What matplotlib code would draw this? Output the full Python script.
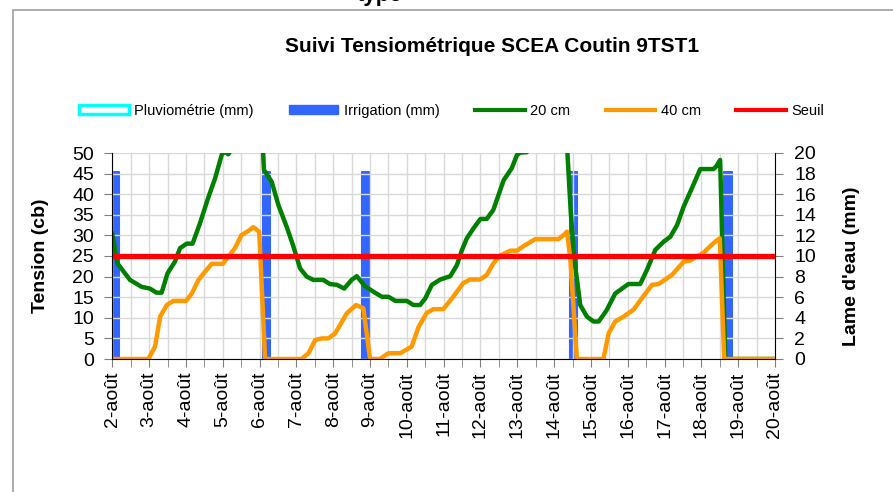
import matplotlib
matplotlib.use("Agg")
import matplotlib.pyplot as plt
import matplotlib.transforms as mtransforms
from matplotlib.patches import Patch, Rectangle
from matplotlib.lines import Line2D
from matplotlib.ticker import MultipleLocator, FixedLocator

plt.rcParams["font.family"] = ["Liberation Sans", "DejaVu Sans"]

# jours depuis le 2-août 00h
day_labels = [f"{d}-août" for d in range(2, 21)]

t20 = [0, 0.14, 0.48, 0.8, 1.02, 1.2, 1.34, 1.5, 1.7, 1.84, 2.02, 2.18, 2.38, 2.6,
       2.79, 2.99, 3.1, 3.15, 3.22, 3.5, 3.9, 4.05, 4.12, 4.33, 4.51, 4.74, 4.92,
       5.1, 5.28, 5.46, 5.73, 5.91, 6.1, 6.3, 6.5, 6.64, 6.87, 7.1, 7.32, 7.5,
       7.69, 8.0, 8.18, 8.36, 8.5, 8.68, 8.91, 9.18, 9.36, 9.5, 9.63, 9.81, 10.0,
       10.17, 10.35, 10.63, 10.85, 10.99, 11.08, 11.26, 11.6, 12.0, 12.33, 12.45,
       12.55, 12.64, 12.71, 12.89, 13.07, 13.21, 13.34, 13.43, 13.66, 14.02,
       14.34, 14.52, 14.75, 14.98, 15.16, 15.34, 15.52, 15.74, 15.97, 16.33,
       16.4, 16.51, 16.65, 18]
v20 = [30.4, 23.2, 19.2, 17.5, 17.1, 16.1, 16.1, 20.8, 23.6, 26.9, 28, 28, 32.9,
       39, 43.8, 50.1, 50.1, 49.7, 50.6, 55, 60, 58, 45.9, 43, 37.4, 32, 27.3,
       22, 20, 19.2, 19.2, 18.2, 18, 17.1, 19.2, 20.1, 17.6, 16.3, 15.1, 15.1,
       14.1, 14.1, 13.1, 13.1, 14.7, 18, 19.3, 20.1, 22.8, 26.5, 29.3, 31.7, 34,
       34, 36.2, 43.4, 46.3, 49.5, 50.1, 50.2, 55, 60, 55, 36, 24, 18, 13.1,
       10.3, 9.1, 9.1, 10.7, 11.9, 15.9, 18.2, 18.2, 21.6, 26.5, 28.5, 29.7,
       32.5, 37, 41.4, 46.1, 46.1, 46.7, 48.3, 0, 0]

t40 = [0, 0.98, 1.16, 1.3, 1.48, 1.66, 2.0, 2.16, 2.34, 2.52, 2.7, 3.0, 3.15,
       3.33, 3.51, 3.7, 3.83, 3.99, 4.15, 5.14, 5.33, 5.51, 5.69, 5.87, 6.05,
       6.19, 6.37, 6.62, 6.82, 7.0, 7.27, 7.5, 7.82, 8.13, 8.32, 8.54, 8.72,
       8.99, 9.26, 9.53, 9.72, 9.99, 10.17, 10.35, 10.53, 10.81, 10.99, 11.17,
       11.49, 12.12, 12.26, 12.35, 12.44, 12.62, 13.34, 13.48, 13.66, 13.89,
       14.16, 14.38, 14.66, 14.84, 15.2, 15.52, 15.7, 16.06, 16.24, 16.38, 16.5,
       16.62, 18]
v40 = [0, 0, 3, 10.3, 13.1, 14.1, 14.1, 15.9, 19.2, 21.2, 23.1, 23.1, 24.8, 26.9,
       30.1, 31.1, 32, 30.9, 0, 0, 1.4, 4.6, 5, 5, 6.2, 8.3, 11.1, 13.1, 12.3,
       0, 0, 1.4, 1.4, 3, 7.8, 11.2, 12.1, 12.1, 15.1, 18.4, 19.3, 19.3, 20.4,
       23.2, 25.1, 26.3, 26.3, 27.4, 29.1, 29.1, 30.1, 30.9, 24.4, 0, 0, 6.2,
       9.1, 10.3, 12.0, 14.7, 18.0, 18.2, 20.4, 23.6, 23.9, 25.8, 27.4, 28.5,
       29.3, 0, 0]

seuil = 25
irrig_t = [0.07, 4.19, 6.87, 12.52, 16.72]
irrig_mm = [18.2, 18.2, 18.2, 18.2, 18.2]

C_PLUIE, C_IRRIG = "#00FFFF", "#3366FF"
C_20, C_40, C_SEUIL = "#008000", "#FF9900", "#FF0000"

fig = plt.figure(figsize=(8.93, 4.92), dpi=100)
ax = fig.add_axes([112.3 / 893, 1 - 359 / 492, 662.7 / 893, 206 / 492])
ax2 = ax.twinx()
ax.set_zorder(ax2.get_zorder() + 1)
ax.patch.set_visible(False)

# irrigation (axe de droite, derrière les courbes)
ax2.bar(irrig_t, irrig_mm, width=0.2, color=C_IRRIG, edgecolor=C_IRRIG,
        linewidth=1.5, joinstyle="round")
ax2.set_ylim(0, 20)
ax2.yaxis.set_major_locator(MultipleLocator(2))

ax.plot(t20, v20, color=C_20, lw=3.2, solid_joinstyle="round")
ax.plot(t40, v40, color=C_40, lw=3.2, solid_joinstyle="round")
ax.axhline(seuil, color=C_SEUIL, lw=3.8)

ax.set_xlim(0, 18)
ax.set_ylim(0, 50)
ax.yaxis.set_major_locator(MultipleLocator(5))
ax.xaxis.set_major_locator(FixedLocator(range(19)))
ax.xaxis.set_minor_locator(MultipleLocator(0.5))
ax.set_xticklabels(day_labels, rotation=90)
ax.grid(True, which="both", color="#d9d9d9", lw=1)
ax.set_axisbelow(True)

# étiquettes de dates légèrement décalées à droite (rendu Excel)
shift = mtransforms.ScaledTranslation(4 / 100, 0, fig.dpi_scale_trans)
for lab in ax.get_xticklabels():
    lab.set_transform(lab.get_transform() + shift)

for a in (ax, ax2):
    for s in ("top", "left", "right"):
        a.spines[s].set_visible(False)
ax.spines["left"].set_visible(True)
ax.spines["bottom"].set_color("black")
ax2.spines["right"].set_visible(True)
ax2.spines["bottom"].set_visible(False)

ax.tick_params(axis="y", labelsize=14, length=6, pad=7, color="#808080")
ax.tick_params(axis="x", which="both", labelsize=14, length=6, pad=3,
               color="#808080")
ax2.tick_params(axis="y", labelsize=14, length=6, pad=8, color="#808080")

ax.set_ylabel("Tension (cb)", fontsize=14, fontweight="bold")
ax.yaxis.set_label_coords(-0.109, 0.5)
ax.yaxis.label.set_va("center")
ax2.set_ylabel("Lame d'eau (mm)", fontsize=14, fontweight="bold", rotation=90)
ax2.yaxis.set_label_coords(1.116, 0.45)
ax2.yaxis.label.set_va("center")

fig.text(491.7 / 893, 1 - 46 / 492, "Suivi Tensiométrique SCEA Coutin 9TST1",
         ha="center", va="center", fontsize=15, fontweight="bold")
fig.text(380 / 893, 1 - 1 / 492, "type", ha="center", va="baseline",
         fontsize=16, fontweight="bold")

handles = [
    Patch(facecolor="white", edgecolor=C_PLUIE, linewidth=2.5),
    Patch(facecolor=C_IRRIG, edgecolor=C_IRRIG),
    Line2D([], [], color=C_20, lw=3),
    Line2D([], [], color=C_40, lw=3),
    Line2D([], [], color=C_SEUIL, lw=3),
]
names = ["Pluviométrie (mm)", "Irrigation (mm)", "20 cm", "40 cm", "Seuil"]
fig.legend(handles, names, loc="center", ncol=5, frameon=False,
           bbox_to_anchor=(451.7 / 893, 1 - 111 / 492), fontsize=10.5,
           handlelength=3.4, handleheight=0.6, handletextpad=0.4,
           columnspacing=2.4, borderpad=0)

fig.add_artist(Rectangle((13 / 893, -0.05), 1.1, 1 - 10 / 492 + 0.05,
                         transform=fig.transFigure, fill=False,
                         edgecolor="#a6a6a6", lw=1.3, clip_on=False))

fig.savefig("out.png", dpi=100)
